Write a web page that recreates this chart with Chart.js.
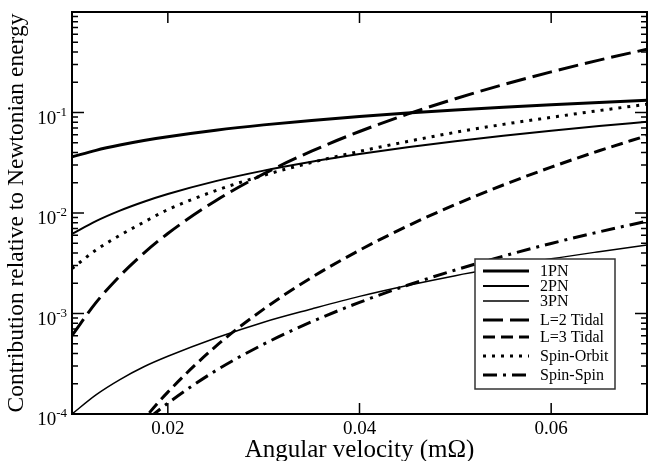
<!DOCTYPE html>
<html>
<head>
<meta charset="utf-8">
<title>PN contributions vs angular velocity</title>
<script src="https://cdn.jsdelivr.net/npm/chart.js@4.4.0/dist/chart.umd.min.js"></script>
<style>
  html, body { margin: 0; padding: 0; background: #fff; }
  #wrap { width: 649px; height: 461px; }
</style>
</head>
<body>
<div id="wrap"><canvas id="energyChart" width="649" height="461"></canvas></div>
<script>
// angular velocity samples (m*Omega), denser at the low end where the curves bend most
const omega = [0.010, 0.0125, 0.015, 0.0175, 0.020, 0.025, 0.030, 0.035, 0.040, 0.045, 0.050, 0.055, 0.060, 0.065, 0.070];

// contributions relative to the Newtonian energy
const pn1 = [0.0362, 0.0420, 0.0474, 0.0526, 0.0575, 0.0667, 0.0753, 0.0834, 0.0912, 0.0987, 0.1058, 0.1128, 0.1195, 0.1261, 0.1325];
const pn2 = [0.00619, 0.00831, 0.01057, 0.01296, 0.01546, 0.02075, 0.0264, 0.03235, 0.0386, 0.0451, 0.0518, 0.0587, 0.0659, 0.0732, 0.0808];
const pn3 = [0.0001, 0.000155, 0.00022, 0.000295, 0.000375, 0.00057, 0.00082, 0.00111, 0.00148, 0.0019, 0.00238, 0.0029, 0.0035, 0.00412, 0.0048];
const tidalL2 = [0.000605, 0.001283, 0.00237, 0.00399, 0.00626, 0.01327, 0.02452, 0.04124, 0.0647, 0.0962, 0.1372, 0.1892, 0.2537, 0.3321, 0.4265];
const tidalL3 = [0.0000064, 0.0000182, 0.0000429, 0.0000883, 0.000165, 0.000471, 0.001106, 0.00228, 0.00426, 0.00741, 0.01214, 0.0190, 0.0286, 0.0416, 0.0589];
const spinOrbit = [0.0028, 0.00428, 0.0060, 0.00811, 0.0108, 0.0167, 0.0237, 0.0318, 0.0410, 0.0515, 0.0635, 0.0762, 0.0895, 0.1045, 0.1207];
const spinSpin = [0.0000128, 0.0000268, 0.000049, 0.0000822, 0.000128, 0.00027, 0.000495, 0.000827, 0.00129, 0.00191, 0.00271, 0.00372, 0.00498, 0.00649, 0.0083];

const seriesNames = ['1PN', '2PN', '3PN', 'L=2 Tidal', 'L=3 Tidal', 'Spin-Orbit', 'Spin-Spin'];

// axis ticks
const xTicks = [0.02, 0.04, 0.06];
const yDecades = [1e-4, 1e-3, 1e-2, 1e-1];
const yExponents = ['-4', '-3', '-2', '-1'];

const SERIF = "'Liberation Serif', 'Times New Roman', serif";

function series(label, values, width, dash) {
  return {
    label,
    data: omega.map((w, i) => ({ x: w, y: values[i] })),
    borderColor: '#000',
    borderWidth: width,
    borderDash: dash,
    borderCapStyle: 'butt',
    fill: false,
    pointRadius: 0,
    cubicInterpolationMode: 'monotone'
  };
}

// frame, inward ticks and the superscript decade labels
const framePlugin = {
  id: 'frame',
  afterDatasetsDraw(chart) {
    const { ctx, chartArea: a, scales: { x, y } } = chart;
    ctx.save();

    // legend box sits on top of the curves
    legendBox(ctx, chart);

    ctx.strokeStyle = '#000';
    ctx.lineWidth = 1.5;
    ctx.beginPath();
    xTicks.forEach(v => {
      const px = x.getPixelForValue(v);
      ctx.moveTo(px, a.bottom); ctx.lineTo(px, a.bottom - 11);
      ctx.moveTo(px, a.top); ctx.lineTo(px, a.top + 11);
    });
    for (let e = -4; e <= 0; e++) {
      for (let k = 1; k <= 9; k++) {
        const v = k * Math.pow(10, e);
        if (v > 1.0001) break;
        const py = y.getPixelForValue(v);
        const len = k === 1 ? 12 : 6;
        ctx.moveTo(a.left, py); ctx.lineTo(a.left + len, py);
        ctx.moveTo(a.right, py); ctx.lineTo(a.right - len, py);
      }
    }
    ctx.stroke();

    ctx.lineWidth = 2;
    ctx.strokeRect(a.left, a.top, a.right - a.left, a.bottom - a.top);

    // 10^n labels
    ctx.fillStyle = '#000';
    ctx.textAlign = 'right';
    ctx.textBaseline = 'alphabetic';
    yDecades.forEach((v, i) => {
      const py = y.getPixelForValue(v);
      ctx.font = `13px ${SERIF}`;
      const ew = ctx.measureText(yExponents[i]).width;
      ctx.fillText(yExponents[i], 67, py + 3);
      ctx.font = `19px ${SERIF}`;
      ctx.fillText('10', 67 - ew, py + 11);
    });
    ctx.restore();
  }
};

function legendBox(ctx, chart) {
  const box = { left: 475, top: 259, right: 615, bottom: 389 };
  const rows = [271, 286, 301, 320, 337, 356, 375];
  ctx.fillStyle = '#fff';
  ctx.fillRect(box.left, box.top, box.right - box.left, box.bottom - box.top);
  ctx.strokeStyle = '#333';
  ctx.lineWidth = 1.5;
  ctx.strokeRect(box.left, box.top, box.right - box.left, box.bottom - box.top);

  ctx.font = `16px ${SERIF}`;
  ctx.textAlign = 'left';
  ctx.textBaseline = 'middle';
  chart.data.datasets.forEach((ds, i) => {
    const ry = rows[i];
    ctx.save();
    ctx.strokeStyle = ds.borderColor;
    ctx.lineWidth = ds.borderWidth;
    ctx.setLineDash(ds.borderDash || []);
    ctx.beginPath();
    ctx.moveTo(483, ry);
    ctx.lineTo(529, ry);
    ctx.stroke();
    ctx.restore();
    ctx.fillStyle = '#000';
    ctx.fillText(ds.label, 540, ry + 1);
  });
}

new Chart(document.getElementById('energyChart'), {
  type: 'line',
  data: {
    datasets: [
      series(seriesNames[0], pn1, 3, []),
      series(seriesNames[1], pn2, 2, []),
      series(seriesNames[2], pn3, 1.5, []),
      series(seriesNames[3], tidalL2, 3, [20, 7]),
      series(seriesNames[4], tidalL3, 3, [12, 6]),
      series(seriesNames[5], spinOrbit, 3, [3, 6]),
      series(seriesNames[6], spinSpin, 3, [14, 6, 3, 6])
    ]
  },
  options: {
    responsive: false,
    animation: false,
    layout: { padding: { top: 12, right: 2, left: 0, bottom: 0 } },
    plugins: { legend: { display: false }, tooltip: { enabled: false } },
    scales: {
      x: {
        type: 'linear',
        min: 0.01,
        max: 0.07,
        grid: { display: false, drawTicks: false },
        border: { display: false },
        afterBuildTicks: s => { s.ticks = xTicks.map(v => ({ value: v })); },
        afterFit: s => { s.height = 47; },
        ticks: {
          color: '#000',
          font: { family: SERIF, size: 19 },
          padding: 4,
          maxRotation: 0,
          callback: v => v.toFixed(2)
        },
        title: {
          display: true,
          text: 'Angular velocity (mΩ)',
          color: '#000',
          font: { family: SERIF, size: 25, lineHeight: 1 },
          padding: { top: 0, bottom: -2 }
        }
      },
      y: {
        type: 'logarithmic',
        min: 1e-4,
        max: 1,
        grid: { display: false, drawTicks: false },
        border: { display: false },
        ticks: { display: false },
        afterFit: s => { s.width = 72; },
        title: {
          display: true,
          text: 'Contribution relative to Newtonian energy',
          color: '#000',
          font: { family: SERIF, size: 23.5, lineHeight: 1 },
          padding: { top: 5, bottom: 0 }
        }
      }
    }
  },
  plugins: [framePlugin]
});
</script>
</body>
</html>
